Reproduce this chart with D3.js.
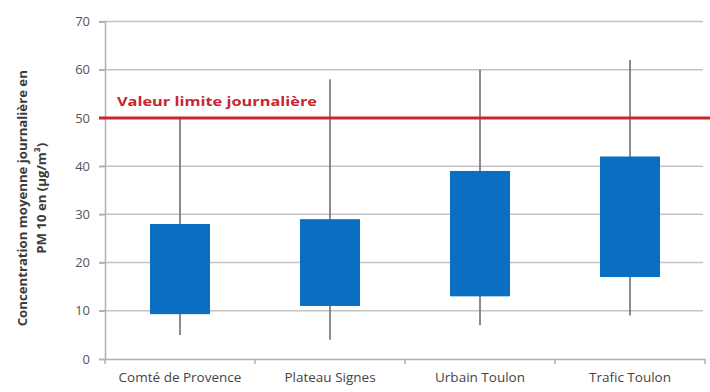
<!DOCTYPE html>
<html><head><meta charset="utf-8">
<script src="https://cdn.jsdelivr.net/npm/d3@7"></script>
<style>body{margin:0;background:#fff}svg{display:block}</style>
</head><body>
<script>
const categories = ["Comté de Provence", "Plateau Signes", "Urbain Toulon", "Trafic Toulon"];
const minVals = [5, 4, 7, 9];
const q1Vals = [9.3, 11, 13, 17];
const q3Vals = [28, 29, 39, 42];
const maxVals = [50, 58, 60, 62];
const yTicks = [0, 10, 20, 30, 40, 50, 60, 70];
const limitValue = 50;
const limitLabel = "Valeur limite journalière";
const yTitle = ["Concentration moyenne journalière en", "PM 10 en (µg/m³)"];

const W = 710, H = 392;
const m = {left: 105, right: 5, top: 21.5, bottom: 33};
const svg = d3.select("body").append("svg").attr("width", W).attr("height", H);

const x = d3.scaleBand().domain(categories).range([m.left, W - m.right]).paddingInner(0).paddingOuter(0);
const y = d3.scaleLinear().domain([0, 70]).range([H - m.bottom, m.top]);

// gridlines
svg.append("g").selectAll("line").data(yTicks.filter(d => d > 0)).join("line")
  .attr("x1", m.left - 6).attr("x2", W - 7)
  .attr("y1", d => y(d)).attr("y2", d => y(d))
  .attr("stroke", "#c4c4c4").attr("stroke-width", 1.5);

// y axis
const yAxis = svg.append("g").attr("transform", `translate(${m.left},0)`)
  .call(d3.axisLeft(y).tickValues(yTicks).tickSize(6).tickPadding(9));
yAxis.select(".domain").attr("stroke", "#b0b0b0").attr("stroke-width", 1.5);
yAxis.selectAll(".tick line").attr("stroke", "#b0b0b0").attr("stroke-width", 1.5);
yAxis.selectAll("text").attr("font-family", "Open Sans, sans-serif").attr("font-size", 13).attr("fill", "#555");

// x axis
const xAxis = svg.append("g").attr("transform", `translate(0,${y(0)})`)
  .call(d3.axisBottom(x).tickSize(0).tickPadding(13));
xAxis.select(".domain").attr("stroke", "#b0b0b0").attr("stroke-width", 1.5);
xAxis.selectAll("text").attr("font-family", "Open Sans, sans-serif").attr("font-size", 13.5).attr("fill", "#444");
svg.append("g").selectAll("line").data([...categories.map(c => x(c)), x(categories[categories.length-1]) + x.bandwidth()]).join("line")
  .attr("x1", d => d).attr("x2", d => d).attr("y1", y(0)).attr("y2", y(0) + 5)
  .attr("stroke", "#b0b0b0").attr("stroke-width", 1.5);

// whiskers
const cx = i => x(categories[i]) + x.bandwidth() / 2;
svg.append("g").selectAll("line").data(categories).join("line")
  .attr("x1", (d, i) => cx(i)).attr("x2", (d, i) => cx(i))
  .attr("y1", (d, i) => y(minVals[i])).attr("y2", (d, i) => y(maxVals[i]))
  .attr("stroke", "#666").attr("stroke-width", 1.5);

// boxes
const bw = x.bandwidth() * 0.4;
svg.append("g").selectAll("rect").data(categories).join("rect")
  .attr("x", (d, i) => cx(i) - bw / 2).attr("width", bw)
  .attr("y", (d, i) => y(q3Vals[i])).attr("height", (d, i) => y(q1Vals[i]) - y(q3Vals[i]))
  .attr("fill", "#0a6fc2");

// limit line
svg.append("line").attr("x1", m.left - 6).attr("x2", W).attr("y1", y(limitValue)).attr("y2", y(limitValue))
  .attr("stroke", "#c8262e").attr("stroke-width", 3);
svg.append("text").attr("x", 117).attr("y", y(limitValue) - 12)
  .attr("font-family", "Open Sans, sans-serif").attr("font-weight", "bold").attr("font-size", 13)
  .attr("fill", "#c8262e").attr("textLength", 200).attr("lengthAdjust", "spacingAndGlyphs").text(limitLabel);

// y title
const tg = svg.append("g").attr("transform", `translate(0,${(y(0) + y(70)) / 2 + 8}) rotate(-90)`);
tg.selectAll("text").data(yTitle).join("text")
  .attr("x", 0).attr("y", (d, i) => 27 + i * 19).attr("text-anchor", "middle")
  .attr("font-family", "Open Sans, sans-serif").attr("font-weight", "bold").attr("font-size", 13.2)
  .attr("fill", "#3a3a3a").text(d => d);
</script>
</body></html>
